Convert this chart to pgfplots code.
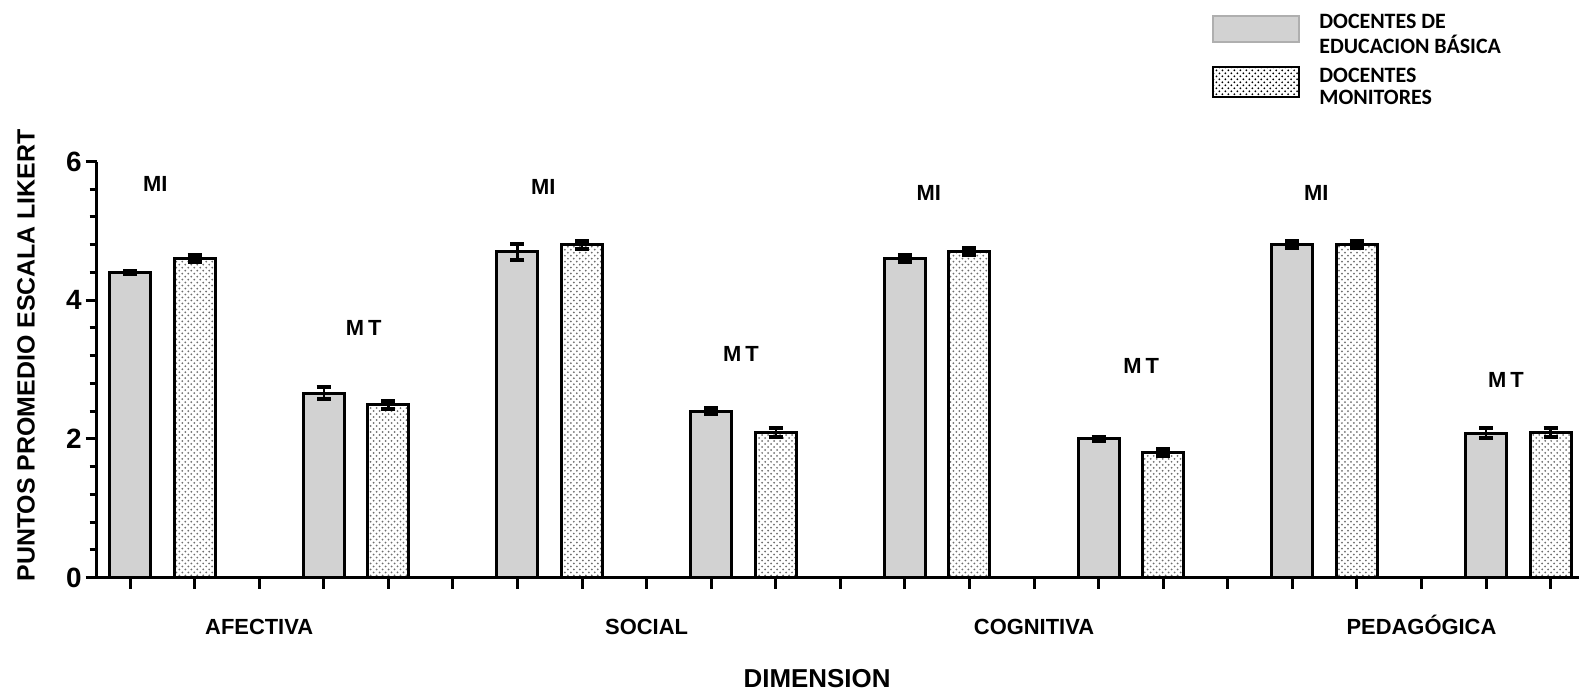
\documentclass[border=0pt]{standalone}
\usepackage{fontspec}
\setmainfont{Liberation Sans}
\newfontfamily\legendfont{Carlito}
\usepackage{pgfplots}
\pgfplotsset{compat=1.18}
\usetikzlibrary{patterns}

\definecolor{bargray}{RGB}{210,210,210}
\definecolor{dotgray}{RGB}{110,110,110}
\definecolor{framegray}{RGB}{175,175,175}

% slots 0..22: each dimension uses six slots (MI pair, gap, MT pair, gap)
\pgfplotstableread{
x   y     e
0   4.40  0.02
3   2.66  0.09
6   4.70  0.115
9   2.40  0.04
12  4.60  0.05
15  2.00  0.03
18  4.80  0.05
21  2.08  0.07
}\basica

\pgfplotstableread{
x   y     e
1   4.60  0.05
4   2.49  0.055
7   4.80  0.055
10  2.09  0.07
13  4.70  0.05
16  1.80  0.05
19  4.80  0.05
22  2.09  0.06
}\monitores

\begin{document}
\begin{tikzpicture}
\useasboundingbox (-48.35bp,-58.75bp) rectangle (741.15bp,288.75bp);
\begin{axis}[
  at={(0,0)}, anchor=south west,
  scale only axis, width=741.15bp, height=208bp,
  xmin=-0.516, xmax=22.44, ymin=0, ymax=6,
  axis x line=bottom, axis y line=left,
  axis line style={-, line width=1.6bp, black},
  ytick={0,2,4,6}, minor y tick num=4,
  xtick={0,...,22},
  xticklabels={,,AFECTIVA,,,,,,SOCIAL,,,,,,COGNITIVA,,,,,,PEDAGÓGICA,,},
  tick align=outside, major tick length=5.5bp, minor tick length=3.5bp,
  tick style={line width=1.5bp, black},
  /pgf/number format/assume math mode=true,
  yticklabel style={font=\fontsize{14}{14}\selectfont\bfseries, inner sep=0pt, anchor=east, xshift=-1.8bp},
  xticklabel style={font=\fontsize{11}{11}\selectfont\bfseries, anchor=base, yshift=-23bp},
  ylabel={PUNTOS PROMEDIO ESCALA LIKERT},
  ylabel style={font=\fontsize{12.5}{12.5}\selectfont\bfseries, at={(axis description cs:-0.0477,0.534)}, anchor=center},
  xlabel={DIMENSION},
  xlabel style={font=\fontsize{13}{13}\selectfont\bfseries, at={(axis description cs:0.486,-0.244)}, anchor=center},
  ybar, bar width=0.635, bar shift=0pt,
  clip=false,
  legend style={at={(axis description cs:0.7524,1.357)}, anchor=north west,
    draw=none, fill=none, inner sep=0pt, outer sep=0pt,
    nodes={inner sep=0pt}, column sep=9.5bp, row sep=10.5bp,
    font=\legendfont\bfseries\fontsize{11}{11}\selectfont},
  legend cell align=left,
  error bars/y dir=both, error bars/y explicit,
  error bars/error bar style={line width=1.2bp, black, solid},
  error bars/error mark options={rotate=90, line width=2bp, black, mark size=3.5bp},
]
\addplot[fill=bargray, draw=black, line width=1.5bp,
  legend image code/.code={\draw[fill=bargray, draw=framegray, line width=1bp] (0bp,-6.5bp) rectangle (43bp,6.5bp);}]
  table[x=x, y=y, y error=e] {\basica};
\addlegendentry{\begin{tabular}[c]{@{}l@{}}DOCENTES DE\\EDUCACION BÁSICA\end{tabular}}

\addplot[pattern=crosshatch dots, pattern color=dotgray, draw=black, line width=1.5bp,
  legend image code/.code={\draw[pattern=crosshatch dots, pattern color=black, draw=black, line width=1.2bp] (0bp,-7.5bp) rectangle (43bp,7.5bp);}]
  table[x=x, y=y, y error=e] {\monitores};
\addlegendentry{\begin{tabular}[c]{@{}l@{}}DOCENTES\\MONITORES\end{tabular}}

% group labels above each pair of bars
\begin{scope}[every node/.style={font=\fontsize{11}{11}\selectfont\bfseries}]
\node at (axis cs:0.39,5.67) {MI};
\node at (axis cs:3.62,3.60) {M\hspace{2bp}T};
\node at (axis cs:6.40,5.64) {MI};
\node at (axis cs:9.46,3.23) {M\hspace{2bp}T};
\node at (axis cs:12.37,5.55) {MI};
\node at (axis cs:15.66,3.05) {M\hspace{2bp}T};
\node at (axis cs:18.37,5.55) {MI};
\node at (axis cs:21.31,2.85) {M\hspace{2bp}T};
\end{scope}
\end{axis}
\end{tikzpicture}
\end{document}
